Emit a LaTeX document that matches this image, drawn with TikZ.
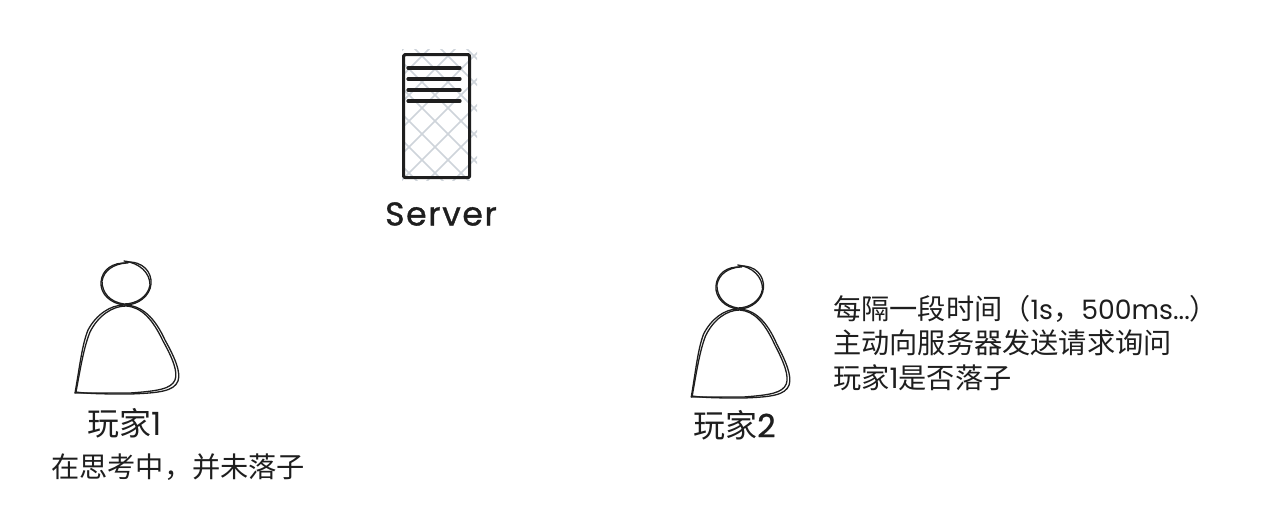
\documentclass[tikz,border=0pt]{standalone}
\usepackage{fontspec}
\setmainfont{Noto Sans CJK SC}
\newfontfamily\handfont{Poppins}
\newfontfamily\handbold[FakeBold=1]{Poppins}
\usepackage{xcolor}
\usetikzlibrary{positioning}
\definecolor{inkDark}{HTML}{1E1E1E}
\definecolor{hatchGray}{HTML}{CED4DA}
\tikzset{
    x=1pt,y=-1pt,
    sketchLine/.style={
        draw=inkDark,
        line width=1.3pt,
        line cap=round,
        line join=round
    },
    serverBox/.style={
        draw=inkDark,
        line width=3.2pt,
        rounded corners=0.5mm,
        line join=round
    },
    serverBar/.style={
        draw=inkDark,
        line width=3.2pt,
        line cap=round
    },
    hatchLine/.style={
        draw=hatchGray,
        line width=1.5pt
    },
    playerName/.style={
        inkDark,
        font=\fontsize{32}{36}\selectfont,
        inner sep=0pt
    },
    noteText/.style={
        inkDark,
        font=\fontsize{28.2}{34.5}\selectfont,
        align=left,
        inner sep=0pt
    },
    serverName/.style={
        inkDark,
        font=\handbold\addfontfeature{LetterSpace=5}\fontsize{33}{36}\selectfont,
        inner sep=0pt
    },
    player/.pic={
        \draw[sketchLine] (126,262) .. controls (143,261) and (152,272) .. (151,284) .. controls (150,296) and (138,305) .. (125,305) .. controls (111,304) and (100,294) .. (101,282) .. controls (102,270) and (112,262) .. (128,263);
        \draw[sketchLine] (124,261) .. controls (140,263) and (150,273) .. (150,285) .. controls (148,297) and (136,304) .. (124,304) .. controls (110,302) and (102,293) .. (102,281) .. controls (104,270) and (114,264) .. (126,263);
        \draw[sketchLine] (75,393) .. controls (80,365) and (82,345) .. (88,330) .. controls (96,315) and (110,305) .. (124,305) .. controls (142,305) and (155,318) .. (165,340) .. controls (175,358) and (181,372) .. (178,381) .. controls (174,391) and (160,393) .. (130,394) .. controls (110,394) and (90,394) .. (76,392);
        \draw[sketchLine] (76,392) .. controls (81,365) and (84,347) .. (90,332) .. controls (98,316) and (112,306) .. (126,306) .. controls (142,307) and (153,320) .. (163,341) .. controls (173,359) and (178,372) .. (175,380) .. controls (171,389) and (158,391) .. (130,393) .. controls (110,393) and (90,393) .. (75,393);
    }
}
\begin{document}
\begin{tikzpicture}
    \useasboundingbox (0,0) rectangle (1273,507);

    % hatching behind the server
    \begin{scope}
        \clip (402,49) rectangle (477,180);
        \foreach \i in {0,...,10} {
            \draw[hatchLine] (380,{-64+\i*26}) -- ++(110,110);
            \draw[hatchLine] (380,{46+\i*26}) -- ++(110,-110);
        }
    \end{scope}

    \node[serverBox,inner sep=0pt,minimum width=66pt,minimum height=123pt,anchor=north west] (server) at (402,53) {};
    \foreach \y in {68,79,90,101} {
        \draw[serverBar] (408,\y) -- (460,\y);
    }
    \node[serverName] (serverLabel) at (441,214) {Server};

    \pic (playerOne) at (0,0) {player};
    \pic[xscale=0.95] (playerTwo) at (620,4) {player};

    \node[playerName,anchor=west] (nameOne) at (87,423) {玩家{\handfont 1}};
    \node[noteText,anchor=west] (noteOne) at (51,467) {在思考中，并未落子};
    \node[playerName,anchor=west] (nameTwo) at (693,425) {玩家{\handbold 2}};
    \node[noteText,anchor=north west] (noteTwo) at (833,295) {每隔一段时间（{\handfont\fontsize{26.7}{34.5}\selectfont 1s}，{\handfont\fontsize{26.7}{34.5}\selectfont 500ms...}）\\主动向服务器发送请求询问\\玩家{\handfont 1}是否落子};
\end{tikzpicture}
\end{document}
